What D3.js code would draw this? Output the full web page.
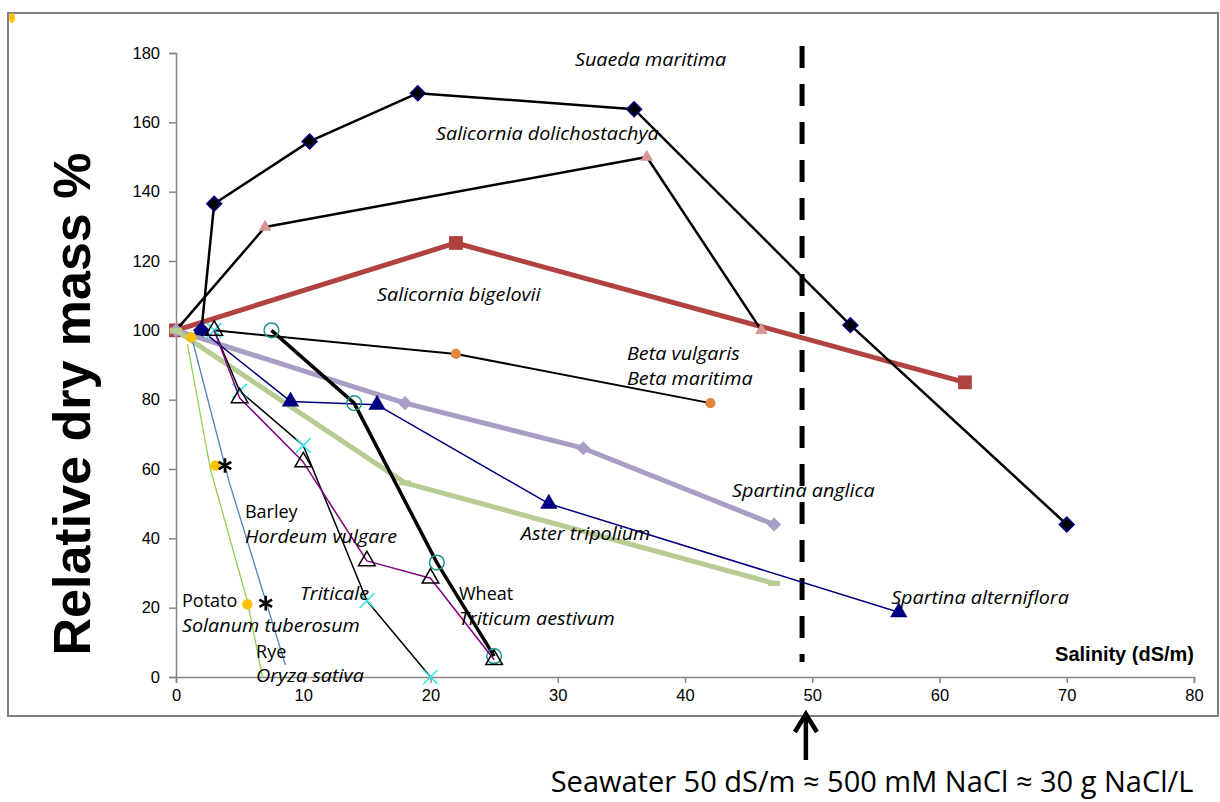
<!DOCTYPE html>
<html>
<head>
<meta charset="utf-8">
<script src="https://cdn.jsdelivr.net/npm/d3@7"></script>
<style>
  body { margin: 0; background: #fff; }
  text { font-family: "Open Sans", sans-serif; }
</style>
</head>
<body>
<div id="chart"></div>
<script>
// axis ticks
const xTicks = [0, 10, 20, 30, 40, 50, 60, 70, 80];
const yTicks = [0, 20, 40, 60, 80, 100, 120, 140, 160, 180];

// series values, [salinity dS/m, relative dry mass %]
const suaedaMaritima = [[2, 100], [3, 136.5], [10.5, 154.5], [19, 168.4], [36, 163.8], [53, 101.5], [70, 44]];
const salicorniaDolichostachya = [[0, 100], [7, 129.8], [37, 150], [46, 100]];
const salicorniaBigelovii = [[0, 100], [22, 125.2], [62, 85]];
const betaVulgaris = [[3, 100], [22, 93.2], [42, 79]];
const spartinaAnglica = [[0, 100], [18, 79], [32, 66], [47, 44]];
const asterTripolium = [[0, 100], [18, 56], [47, 27]];
const spartinaAlterniflora = [[2, 100], [9, 79.5], [15.8, 78.5], [29.3, 50], [56.8, 18.7]];
const wheat = [[7.5, 100], [14, 79], [20.5, 33], [25, 6]];
const triticaleA = [[3, 100], [5, 80.5], [10, 62], [15, 33.5], [20, 28.5], [25, 5]];
const triticaleB = [[3, 100], [5, 82.5], [10, 66.8], [15, 22], [20, 0]];
const ryeLine = [[0.9, 96], [2.7, 60], [5.6, 22], [6.8, 0]];
const barleyLine = [[1.3, 97], [4.2, 56], [8.6, 3.5]];
const potato = [[1.2, 98], [3.1, 61], [5.6, 21]];
const barley = [[3.85, 61], [7.05, 21.3]];

// seawater marker
const seawater = 49.2;

// species labels: [text, x, y, italic]
const labels = [
  ["Suaeda maritima", 31.35, 176.2, true],
  ["Salicornia dolichostachya", 20.43, 154.9, true],
  ["Salicornia bigelovii", 15.8, 108.5, true],
  ["Beta vulgaris", 35.44, 91.4, true],
  ["Beta maritima", 35.44, 84.2, true],
  ["Spartina anglica", 43.7, 51.9, true],
  ["Aster tripolium", 27.1, 39.5, true],
  ["Spartina alterniflora", 56.2, 21.1, true],
  ["Barley", 5.42, 45.9, false],
  ["Hordeum vulgare", 5.42, 38.7, true],
  ["Triticale", 9.74, 22.2, true],
  ["Wheat", 22.24, 22.2, false],
  ["Triticum aestivum", 22.24, 15, true],
  ["Potato", 0.47, 20.2, false],
  ["Solanum tuberosum", 0.47, 13, true],
  ["Rye", 6.29, 5.5, false],
  ["Oryza sativa", 6.29, -1.4, true]
];

const width = 1220, height = 802;

const svg = d3.select("#chart")
  .append("svg")
    .attr("width", width)
    .attr("height", height);

// outer frame
svg.append("rect")
  .attr("x", 8).attr("y", 13)
  .attr("width", 1210).attr("height", 703)
  .attr("fill", "none")
  .attr("stroke", "#7f7f7f")
  .attr("stroke-width", 2);
svg.append("ellipse")
  .attr("cx", 12).attr("cy", 18).attr("rx", 3).attr("ry", 5)
  .attr("fill", "#ffc000");

const x = d3.scaleLinear().domain([0, 80]).range([176, 1194]);
const y = d3.scaleLinear().domain([0, 180]).range([677, 53]);

// axes
const xAxis = svg.append("g")
  .attr("transform", `translate(0,${y(0)})`)
  .call(d3.axisBottom(x).tickValues(xTicks).tickSize(6).tickPadding(6));
const yAxis = svg.append("g")
  .attr("transform", `translate(${x(0)},0)`)
  .call(d3.axisLeft(y).tickValues(yTicks).tickSize(7).tickPadding(9));

[xAxis, yAxis].forEach(a => {
  a.selectAll("path, line").attr("stroke", "#868686").attr("stroke-width", 1.5);
  a.selectAll("text")
    .attr("fill", "#000")
    .style("font-family", "'Liberation Sans', Arial, sans-serif")
    .style("font-size", "16.5px");
});

svg.append("text")
  .attr("transform", `translate(90,404) rotate(-90)`)
  .attr("text-anchor", "middle")
  .style("font-family", "'Liberation Sans', Arial, sans-serif")
  .style("font-weight", "bold")
  .style("font-size", "52px")
  .text("Relative dry mass %");

svg.append("text")
  .attr("x", x(80)).attr("y", y(0) - 16)
  .attr("text-anchor", "end")
  .style("font-family", "'Liberation Sans', Arial, sans-serif")
  .style("font-weight", "bold")
  .style("font-size", "20px")
  .text("Salinity (dS/m)");

// seawater dashed line
svg.append("line")
  .attr("x1", x(seawater)).attr("x2", x(seawater))
  .attr("y1", y(182)).attr("y2", y(4.3))
  .attr("stroke", "#000")
  .attr("stroke-width", 5)
  .attr("stroke-dasharray", "22,16");

const line = d3.line().x(d => x(d[0])).y(d => y(d[1]));

// series drawing table
const series = [
  {data: salicorniaBigelovii, stroke: "#b0433f", sw: 5, sym: d3.symbolSquare, size: 190, fill: "#b0433f"},
  {data: salicorniaDolichostachya, stroke: "#000", sw: 2.5, sym: d3.symbolTriangle, size: 70, fill: "#d99694"},
  {data: suaedaMaritima, stroke: "#000", sw: 2.5, sym: d3.symbolSquare, size: 110, fill: "#000", mstroke: "#000080", rot: 45},
  {data: betaVulgaris, stroke: "#000", sw: 2, sym: d3.symbolCircle, size: 80, fill: "#e2853e", skipFirst: true},
  {data: spartinaAnglica, stroke: "#a99dc4", sw: 5, sym: d3.symbolSquare, size: 100, fill: "#a99dc4", rot: 45},
  {data: asterTripolium, stroke: "#b6cc93", sw: 5, sym: "bar", fill: "#b6cc93"},
  {data: spartinaAlterniflora, stroke: "#000080", sw: 1.5, sym: d3.symbolTriangle, size: 130, fill: "#000080"},
  {data: wheat, stroke: "#000", sw: 3.5, sym: d3.symbolCircle, size: 170, fill: "none", mstroke: "#1b968f", msw: 1.5},
  {data: triticaleB, stroke: "#000", sw: 1.5, sym: d3.symbolX, size: 140, fill: "none", mstroke: "#33e6e6", msw: 1.6},
  {data: triticaleA, stroke: "#800080", sw: 1.5, sym: d3.symbolTriangle, size: 120, fill: "none", mstroke: "#000", msw: 1.5},
  {data: ryeLine, stroke: "#92d050", sw: 1.3},
  {data: barleyLine, stroke: "#4f81bd", sw: 1.3},
  {data: potato, sym: d3.symbolCircle, size: 85, fill: "#ffc000"},
  {data: barley, sym: d3.symbolAsterisk, size: 150, fill: "none", mstroke: "#000", msw: 2.6}
];

series.forEach(s => {
  if (s.stroke) {
    svg.append("path")
      .datum(s.data)
      .attr("d", line)
      .attr("fill", "none")
      .attr("stroke", s.stroke)
      .attr("stroke-width", s.sw)
      .attr("stroke-linejoin", "round");
  }
  if (!s.sym) return;
  const pts = s.skipFirst ? s.data.slice(1) : s.data;
  if (s.sym === "bar") {
    svg.selectAll(null)
      .data(pts)
      .enter().append("rect")
        .attr("x", d => x(d[0]) - 6)
        .attr("y", d => y(d[1]) - 2.5)
        .attr("width", 12).attr("height", 5)
        .attr("fill", s.fill);
    return;
  }
  svg.selectAll(null)
    .data(pts)
    .enter().append("path")
      .attr("d", d3.symbol().type(s.sym).size(s.size))
      .attr("transform", d => `translate(${x(d[0])},${y(d[1])}) rotate(${s.rot || 0})`)
      .attr("fill", s.fill)
      .attr("stroke", s.mstroke || "none")
      .attr("stroke-width", s.msw || 1.5);
});

// species labels (italic ones slightly widened, like the source)
svg.selectAll(null)
  .data(labels)
  .enter().append("text")
    .attr("transform", d => `translate(${x(d[1])},${y(d[2])}) scale(${d[3] ? 1.1 : 1},1)`)
    .style("font-style", d => d[3] ? "italic" : "normal")
    .style("font-size", "18px")
    .attr("fill", "#000")
    .text(d => d[0]);

// seawater arrow and note
const ax = x(49.5);
svg.append("path")
  .attr("d", `M${ax},${y(0) + 83}V${y(0) + 37}M${ax - 11},${y(0) + 55}L${ax},${y(0) + 37}L${ax + 11},${y(0) + 55}`)
  .attr("fill", "none")
  .attr("stroke", "#000")
  .attr("stroke-width", 4.5);

svg.append("text")
  .attr("x", 872).attr("y", 792)
  .attr("text-anchor", "middle")
  .style("font-size", "29px")
  .attr("fill", "#000")
  .text("Seawater 50 dS/m ≈ 500 mM NaCl ≈ 30 g NaCl/L");
</script>
</body>
</html>
